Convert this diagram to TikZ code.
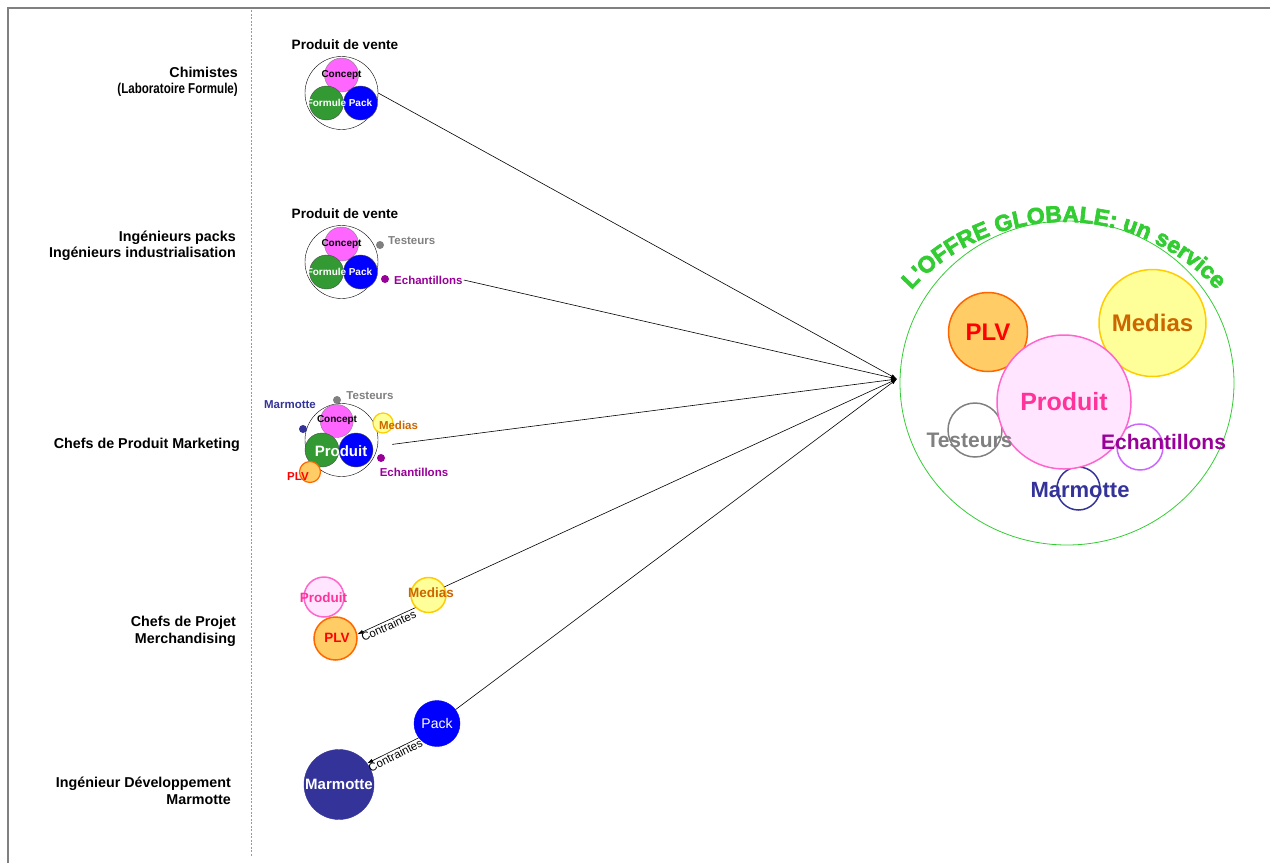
\documentclass[tikz,border=0pt]{standalone}
\usepackage{fontspec}
\setmainfont{Liberation Sans}
\newfontfamily\heavy{Liberation Sans}[FakeBold=3]
\usetikzlibrary{arrows.meta, shapes.geometric, decorations.text}
\newcommand\sz[1]{\fontsize{#1}{#1}\selectfont}
\definecolor{conc}{HTML}{FF66FF}
\definecolor{form}{HTML}{339933}
\definecolor{packb}{HTML}{0000FF}
\definecolor{marm}{HTML}{333399}
\definecolor{plvf}{HTML}{FFCC66}
\definecolor{plvd}{HTML}{FF6600}
\definecolor{medf}{HTML}{FFFF99}
\definecolor{medd}{HTML}{FFCC00}
\definecolor{medt}{HTML}{CC6600}
\definecolor{prodf}{HTML}{FFE5FF}
\definecolor{prodd}{HTML}{FF66CC}
\definecolor{prodt}{HTML}{FF3399}
\definecolor{test}{HTML}{808080}
\definecolor{echd}{HTML}{CC66FF}
\definecolor{echt}{HTML}{990099}
\definecolor{offr}{HTML}{33CC33}
\tikzset{
  role/.style={anchor=east, align=right, inner sep=0pt, font=\bfseries\fontsize{14.3}{16.5}\selectfont},
  ball/.style={circle, draw, inner sep=0pt, minimum size=#1},
  dotc/.style={circle, fill=#1, inner sep=0pt, minimum size=8pt},
  lbl/.style={inner sep=1pt, font=\bfseries\sz{#1}},
  note/.style={inner sep=1pt, font=\sz{11.5}},
  arr/.style={-{Latex[length=6pt, width=4pt]}, line width=0.6pt},
}

\begin{document}
\begin{tikzpicture}[x=1pt, y=1pt]
  \useasboundingbox (0,0) rectangle (1270,-863);
  \draw[test, line width=2pt] (7.5,-863) -- (7.5,-7.5) -- (1270,-7.5);
  \draw[test!80, line width=0.8pt, dash pattern=on 2pt off 1.5pt] (251,-10) -- (251,-857);

  \node[role] (r1) at (238,-82) {Chimistes\\\scalebox{0.81}[1]{(Laboratoire Formule)}};
  \node[role] (r2) at (236,-246) {Ingénieurs packs\\Ingénieurs industrialisation};
  \node[role] (r3) at (240,-445) {Chefs de Produit Marketing};
  \node[role] (r4) at (236,-631.5) {Chefs de Projet\\Merchandising};
  \node[role] (r5) at (231,-791) {Ingénieur Développement\\Marmotte};

  \foreach \k/\d in {1/0, 2/169} {
    \node[lbl=13.6] (t\k) at (345,-45-\d) {Produit de vente};
    \node[ball=73, draw=black] (g\k) at (341.5,-93-\d) {};
    \node[ball=34, fill=conc, draw=black!50] (c\k) at (341.5,-75-\d) {};
    \node[ball=34, fill=form, draw=black!70] (f\k) at (326.5,-103-\d) {};
    \node[ball=34, fill=packb, draw=black!70] (p\k) at (360.5,-103-\d) {};
    \node[lbl=10] (ct\k) at (c\k) {Concept};
    \node[lbl=10, white] (ft\k) at (f\k) {Formule};
    \node[lbl=10, white] (pt\k) at (p\k) {Pack};
  }
  \node[dotc=test] (d2) at (380,-245) {};
  \node[lbl=11.5, test, anchor=west] (s2) at (387,-241) {Testeurs};
  \node[dotc=echt] (e2d) at (385,-279) {};
  \node[lbl=11.5, echt, anchor=west] (e2) at (393,-280) {Echantillons};

  \node[ball=73, draw=black] (g3) at (341.5,-440) {};
  \node[ball=33, fill=conc, draw=black!50] (c3) at (336.7,-421) {};
  \node[ball=34, fill=form, draw=black!70] (f3) at (322,-450) {};
  \node[ball=34, fill=packb, draw=black!70] (p3) at (356,-450) {};
  \node[lbl=10] (ct3) at (337,-420) {Concept};
  \node[lbl=15, white] (pt3) at (341,-451) {Produit};
  \node[dotc=test] (d3) at (337,-400) {};
  \node[lbl=11.5, test] (s3) at (370,-396) {Testeurs};
  \node[dotc=marm] (m3d) at (303,-429) {};
  \node[lbl=11.5, marm] (m3) at (290,-405) {Marmotte};
  \node[ball=20, fill=medf, draw=medd, line width=1.2pt] (v3) at (383,-423) {};
  \node[lbl=11.5, medt] (vt3) at (398.5,-425) {Medias};
  \node[dotc=echt] (e3d) at (381,-458) {};
  \node[lbl=11.5, echt] (e3) at (414,-472) {Echantillons};
  \node[ball=21, fill=plvf, draw=plvd, line width=1.2pt] (l3) at (310,-472) {};
  \node[lbl=11.5, red] (lt3) at (298,-477) {PLV};

  \node[ball=40, fill=prodf, draw=prodd, line width=1.5pt] (q4) at (324,-597) {};
  \node[ball=43, fill=plvf, draw=plvd, line width=1.5pt] (l4) at (335.5,-638.5) {};
  \node[ball=35, fill=medf, draw=medd, line width=1.5pt] (m4) at (428.5,-595) {};
  \node[lbl=13.5, prodt] (qt4) at (323.5,-598) {Produit};
  \node[lbl=13.5, red] (lt4) at (337,-638) {PLV};
  \node[lbl=13.5, medt] (mt4) at (431,-593) {Medias};
  \draw[arr] (m4.224) -- node[note, sloped, below] (k4) {Contraintes} (l4.11);

  \node[ball=46, fill=packb, draw=packb, text=white, font=\sz{14}] (p5) at (437,-723.5) {Pack};
  \node[ball=70, fill=marm, draw=marm, text=white, font=\bfseries\sz{15}] (mm5) at (339,-784.5) {Marmotte};
  \draw[arr] (p5.218) -- node[note, sloped, below] (k5) {Contraintes} (mm5.37);

  \node[ellipse, draw=offr, line width=0.8pt, minimum width=334, minimum height=324, inner sep=0pt] (offre) at (1067,-383) {};
  \path[decorate, decoration={text along path, text align=center,
    text={|\heavy\bfseries\sz{23}\color{offr}|L'OFFRE GLOBALE: un service}}]
    (1064,-427) ++(142:205) arc[start angle=142, end angle=38, radius=205];
  \node[ball=79, fill=plvf, draw=plvd, line width=1.5pt, text=red, font=\bfseries\sz{24}] (plv) at (988,-332) {PLV};
  \node[ball=107, fill=medf, draw=medd, line width=1.5pt, text=medt, font=\bfseries\sz{24}] (med) at (1152.5,-323) {Medias};
  \node[ball=54, draw=test, line width=1.5pt] (tst) at (975,-430) {};
  \node[ball=46, draw=echd, line width=1.5pt] (ech) at (1140,-447) {};
  \node[ball=43, draw=marm, line width=1.5pt] (mar) at (1078.5,-488.5) {};
  \node[ball=134, fill=prodf, draw=prodd, line width=1.5pt, text=prodt, font=\bfseries\sz{25}] (prod) at (1064,-402) {Produit};
  \node[lbl=21, test] (tstt) at (969.5,-440) {Testeurs};
  \node[lbl=21, echt] (echt) at (1163.5,-442) {Echantillons};
  \node[lbl=22, marm] (mart) at (1080,-490) {Marmotte};

  \coordinate (hub) at (897,-379);
  \draw[arr] (g1.east) -- (hub);
  \draw[arr] (e2.east) -- (hub);
  \draw[arr, shorten <=24pt] (pt3) -- (hub);
  \draw[arr] (mt4) -- (hub);
  \draw[arr] (p5) -- (hub);
\end{tikzpicture}
\end{document}
